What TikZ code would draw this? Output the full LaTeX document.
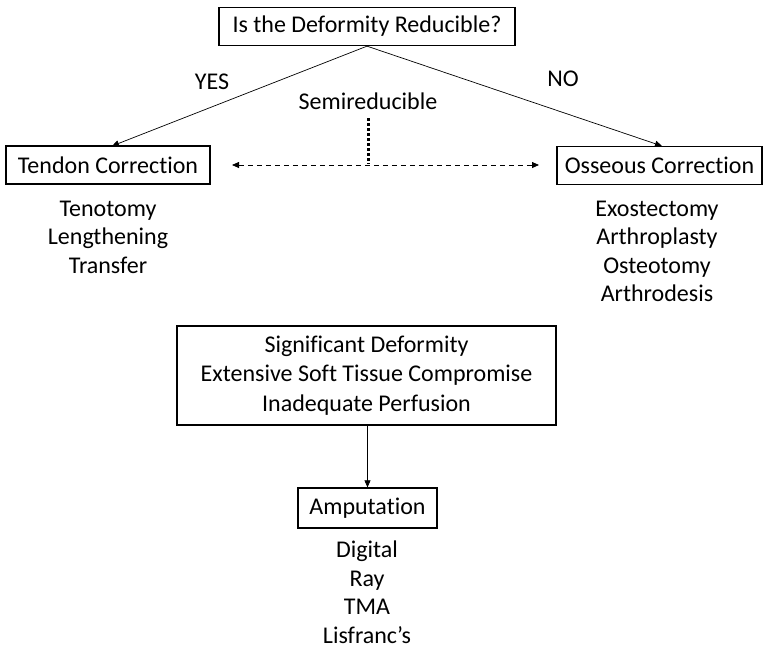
\documentclass[tikz,border=0pt]{standalone}
\usepackage{fontspec}
\setmainfont[Ligatures=NoCommon]{Carlito}
\usetikzlibrary{arrows.meta}
\begin{document}
\begin{tikzpicture}[x=1pt,y=-1pt,
  box/.style={draw,line width=1.3pt,inner sep=0pt,minimum height=38pt,font=\fontsize{24}{28.5}\selectfont},
  lbl/.style={font=\fontsize{24}{28.5}\selectfont,align=center,inner sep=0pt},
  arr/.style={line width=0.7pt,-{Triangle[length=7pt,width=6pt]}}]
\useasboundingbox (0,0) rectangle (768,649);
\node[box,minimum width=296pt] (top) at (367,26.5) {Is the Deformity Reducible?};
\node[box,minimum width=204pt] (tendon) at (108,165) {Tendon Correction};
\node[box,minimum width=205pt] (osseous) at (659.5,165.5) {Osseous Correction};
\coordinate (tl) at (112,146);
\coordinate (tr) at (662,146);
\draw[arr] (top.south) -- (tl);
\draw[arr] (top.south) -- (tr);
\node[lbl] (yes) at (212,82) {YES};
\node[lbl] (no) at (563,79) {NO};
\node[lbl] (semi) at (368,101) {Semireducible};
\coordinate (dtop) at (368,118);
\coordinate (dbot) at (368,164);
\draw[line width=3pt,dash pattern=on 2.5pt off 2.5pt] (dtop) -- (dbot);
\coordinate (dl) at (232,165);
\coordinate (dr) at (539,165);
\draw[line width=0.8pt,dash pattern=on 5pt off 4pt,{Triangle[length=7pt,width=6pt]}-{Triangle[length=7pt,width=6pt]}] (dl) -- (dr);
\node[lbl,anchor=north] (tlist) at (108,200.5) {Tenotomy\\Lengthening\\Transfer};
\node[lbl,anchor=north] (olist) at (657,200.5) {Exostectomy\\Arthroplasty\\Osteotomy\\Arthrodesis};
\node[box,minimum width=379pt,minimum height=99pt,align=center,font=\fontsize{24}{29.5}\selectfont] (mid) at (366.5,375.5) {Significant Deformity\\Extensive Soft Tissue Compromise\\Inadequate Perfusion};
\node[box,minimum width=139pt,minimum height=40pt] (amp) at (367.5,508) {Amputation};
\draw[arr] (mid.south -| amp.north) -- (amp.north);
\node[lbl,anchor=north] (alist) at (367,541) {Digital\\Ray\\TMA\\Lisfranc’s};
\end{tikzpicture}
\end{document}
